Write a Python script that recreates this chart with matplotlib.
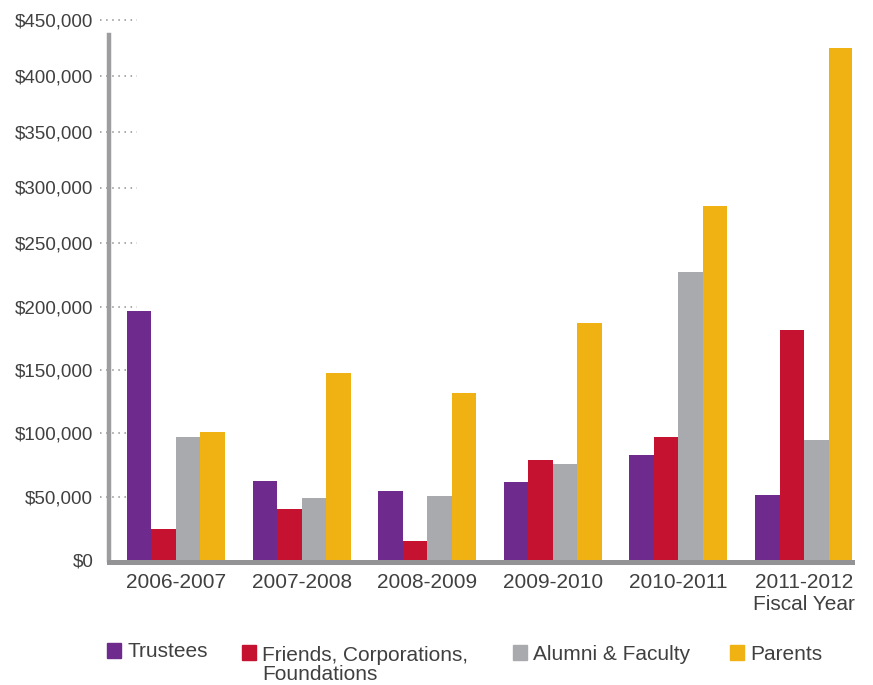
import matplotlib
matplotlib.use("Agg")
import matplotlib.pyplot as plt
import numpy as np
from matplotlib.patches import Rectangle
from matplotlib.ticker import FuncFormatter

# Fiscal years and giving by donor group (dollars)
years = ["2006-2007", "2007-2008", "2008-2009", "2009-2010", "2010-2011", "2011-2012\nFiscal Year"]
trustees = [196500, 62500, 54700, 61700, 82800, 51600]
friends = [24400, 40400, 14800, 78900, 96900, 181500]
alumni = [96900, 49200, 50800, 75800, 227200, 94500]
parents = [100800, 147600, 131700, 187000, 283300, 425000]

series = [trustees, friends, alumni, parents]
names = ["Trustees", "Friends, Corporations,\nFoundations", "Alumni & Faculty", "Parents"]
colors = ["#6e2a8d", "#c41230", "#a9aaad", "#f0b212"]

# y tick values; the original axis is not evenly spaced, so keep its spacing (px above baseline)
yticks = [0, 50000, 100000, 150000, 200000, 250000, 300000, 350000, 400000, 450000]
ytick_px = [0, 62.5, 126.5, 189.5, 253, 316.5, 372, 427.5, 483.5, 539.5]

W, H = 873, 685
text_col = "#404040"
plt.rcParams['font.family'] = ['Liberation Sans', 'DejaVu Sans']

fig = plt.figure(figsize=(W / 100, H / 100), dpi=100)
ax_left, ax_right, ax_bottom, ax_top = 108.5, 852, 559.5, 20
ax = fig.add_axes([ax_left / W, (H - ax_bottom) / H,
                   (ax_right - ax_left) / W, (ax_bottom - ax_top) / H])


def fwd(v):
    return np.interp(v, yticks, ytick_px)


def inv(p):
    return np.interp(p, ytick_px, yticks)


ax.set_yscale('function', functions=(fwd, inv))
ax.set_ylim(0, 450000)

x = np.arange(len(years))
bw = 0.195
for i, (vals, c) in enumerate(zip(series, colors)):
    ax.bar(x + (i - 1.5) * bw, vals, width=bw, color=c, zorder=2)

ax.set_xlim(-0.537, 5.382)
ax.set_xticks(x)
ax.set_xticklabels(years, linespacing=1.4)
ax.set_yticks(yticks)
ax.yaxis.set_major_formatter(FuncFormatter(lambda v, p: "${:,.0f}".format(v)))
ax.tick_params(axis='y', length=0, pad=11, labelsize=13.5, labelcolor=text_col)
ax.tick_params(axis='x', length=0, pad=8, labelsize=15, labelcolor=text_col)

# short dotted guide marks at each tick
for t in yticks[1:]:
    ax.plot([-0.0114, 0.0383], [t, t], transform=ax.get_yaxis_transform(),
            color="#8f8f8f", lw=1.1, linestyle=(0, (1, 3)), clip_on=False, zorder=1)

for s in ['top', 'right']:
    ax.spines[s].set_visible(False)
ax.spines['left'].set_color("#9d9da0")
ax.spines['left'].set_linewidth(3.2)
ax.spines['left'].set_bounds(0, 437000)
ax.spines['bottom'].set_color("#939396")
ax.spines['bottom'].set_linewidth(3.6)
ax.spines['bottom'].set_position(('outward', 1.5))


# legend drawn by hand to match the original layout
def fx(px):
    return px / W


def fy(py):
    return (H - py) / H


patch_px = [(107, 643), (242, 645), (513, 645), (730, 645)]
text_px = [(127, 657), (262, 661), (533, 660), (750, 660)]
for (px, py), (tx, ty), name, c in zip(patch_px, text_px, names, colors):
    fig.add_artist(Rectangle((fx(px), fy(py + 15)), 14 / W, 15 / H,
                             transform=fig.transFigure, color=c))
    lines = name.split("\n")
    for k, line in enumerate(lines):
        fig.text(fx(tx), fy(ty + 18.5 * k), line, fontsize=15, color=text_col,
                 ha='left', va='baseline')

fig.savefig("out.png", dpi=100)
